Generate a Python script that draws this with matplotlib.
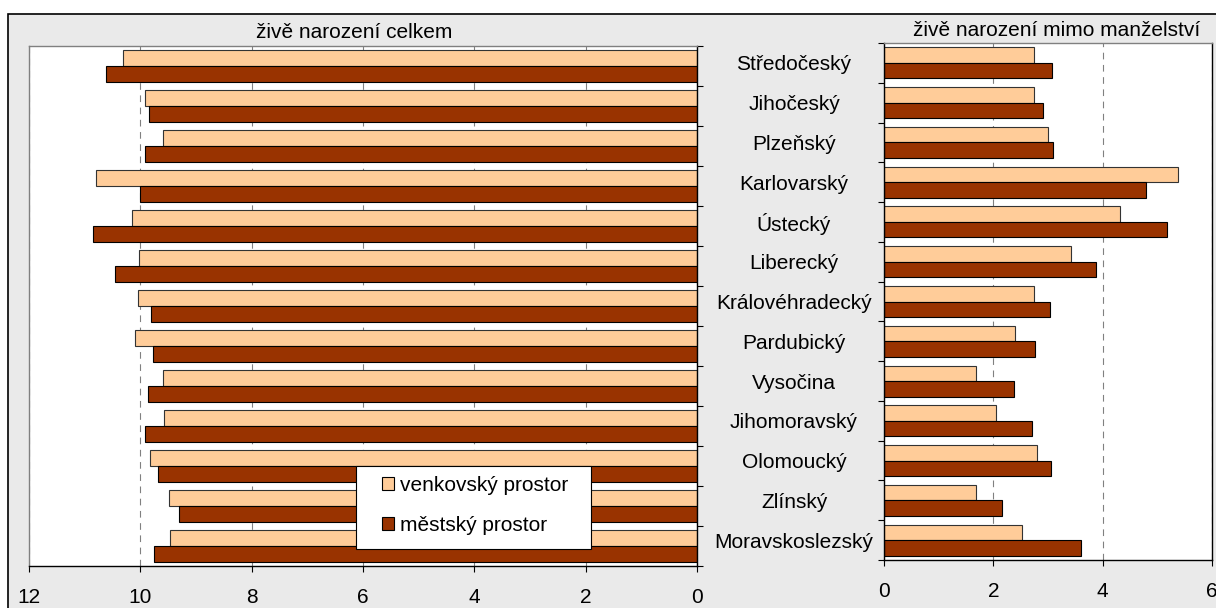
import numpy as np
import matplotlib
matplotlib.use("Agg")
import matplotlib.pyplot as plt
from matplotlib.patches import Rectangle, Patch

plt.rcParams['font.family'] = ['Liberation Sans', 'DejaVu Sans']

kraje = ["Středočeský", "Jihočeský", "Plzeňský", "Karlovarský", "Ústecký",
         "Liberecký", "Královéhradecký", "Pardubický", "Vysočina",
         "Jihomoravský", "Olomoucký", "Zlínský", "Moravskoslezský"]

# živě narození celkem (na 1000 obyvatel)
celkem_venkov = [10.32, 9.91, 9.59, 10.80, 10.15, 10.02, 10.05, 10.09, 9.59,
                 9.58, 9.82, 9.48, 9.46]
celkem_mesto = [10.61, 9.84, 9.92, 10.00, 10.85, 10.45, 9.80, 9.77, 9.86,
                9.91, 9.69, 9.30, 9.75]

# živě narození mimo manželství
mimo_venkov = [2.74, 2.74, 3.00, 5.38, 4.32, 3.42, 2.75, 2.40, 1.68, 2.05,
               2.80, 1.68, 2.52]
mimo_mesto = [3.08, 2.90, 3.09, 4.80, 5.17, 3.87, 3.03, 2.76, 2.38, 2.71,
              3.06, 2.16, 3.61]

c_venkov = "#FFCC99"
c_mesto = "#993300"
W, H = 1216, 608
fs = 15

fig = plt.figure(figsize=(W / 100, H / 100), dpi=100, facecolor="white")
bg = Rectangle((8 / W, -0.1), 1.2, (H - 14) / H + 0.1, transform=fig.transFigure,
               facecolor="#EAEAEA", edgecolor="black", lw=1.2, zorder=0)
fig.add_artist(bg)

ax1 = fig.add_axes([29 / W, (H - 566) / H, 668 / W, 520 / H])
ax2 = fig.add_axes([884 / W, (H - 560) / H, 328 / W, 517 / H])

y = np.arange(len(kraje))
bh = 0.39

for ax, v, m in [(ax1, celkem_venkov, celkem_mesto), (ax2, mimo_venkov, mimo_mesto)]:
    ax.set_facecolor("white")
    ax.barh(y - bh / 2, v, height=bh, color=c_venkov, edgecolor="#333333", lw=0.8, zorder=2)
    ax.barh(y + bh / 2, m, height=bh, color=c_mesto, edgecolor="black", lw=0.8, zorder=2)
    ax.set_ylim(len(kraje) - 0.5, -0.5)
    ax.set_yticks(np.arange(len(kraje) + 1) - 0.5)
    ax.xaxis.grid(True, color="#808080", lw=0.8, linestyle=(0, (6, 5)))
    ax.set_axisbelow(True)
    ax.tick_params(axis="both", which="major", direction="out", length=4.5,
                   width=0.8, labelsize=fs)
    ax.tick_params(axis="x", pad=11.5)
    for s in ax.spines.values():
        s.set_linewidth(1.0)
    ax.spines["top"].set_color("#808080")

# levý panel
ax1.set_xlim(12, 0)
ax1.set_xticks(np.arange(0, 13, 2))
ax1.yaxis.tick_right()
ax1.tick_params(axis="y", labelright=False)
ax1.spines["left"].set_color("#808080")

# pravý panel
ax2.set_xlim(0, 6)
ax2.set_xticks(np.arange(0, 7, 2))
ax2.tick_params(axis="y", labelleft=False)
ax2.set_yticks(y, minor=True)
ax2.set_yticklabels(kraje, minor=True, fontsize=fs)
ax2.tick_params(axis="y", which="minor", length=0, pad=64.8)
for lbl in ax2.get_yticklabels(minor=True):
    lbl.set_horizontalalignment("center")

fig.text(354 / W, 1 - 32 / H, "živě narození celkem", ha="center", va="center", fontsize=fs)
fig.text(1057 / W, 1 - 31 / H, "živě narození mimo manželství", ha="center", va="center", fontsize=fs)

# legenda
box = Rectangle((327 / 668, 17 / 520), 235 / 668, 83 / 520, transform=ax1.transAxes,
                facecolor="white", edgecolor="black", lw=0.8, zorder=4)
ax1.add_patch(box)
handles = [Patch(facecolor=c_venkov, edgecolor="black", lw=0.8, label="venkovský prostor"),
           Patch(facecolor=c_mesto, edgecolor="black", lw=0.8, label="městský prostor")]
leg = ax1.legend(handles=handles, loc="upper left", bbox_to_anchor=(353 / 668, 90 / 520),
                 frameon=False, fontsize=fs, borderpad=0, borderaxespad=0,
                 handlelength=0.58, handleheight=0.58, handletextpad=0.3,
                 labelspacing=1.0)
leg.set_zorder(5)

fig.savefig("out.png", dpi=100, facecolor="white")
